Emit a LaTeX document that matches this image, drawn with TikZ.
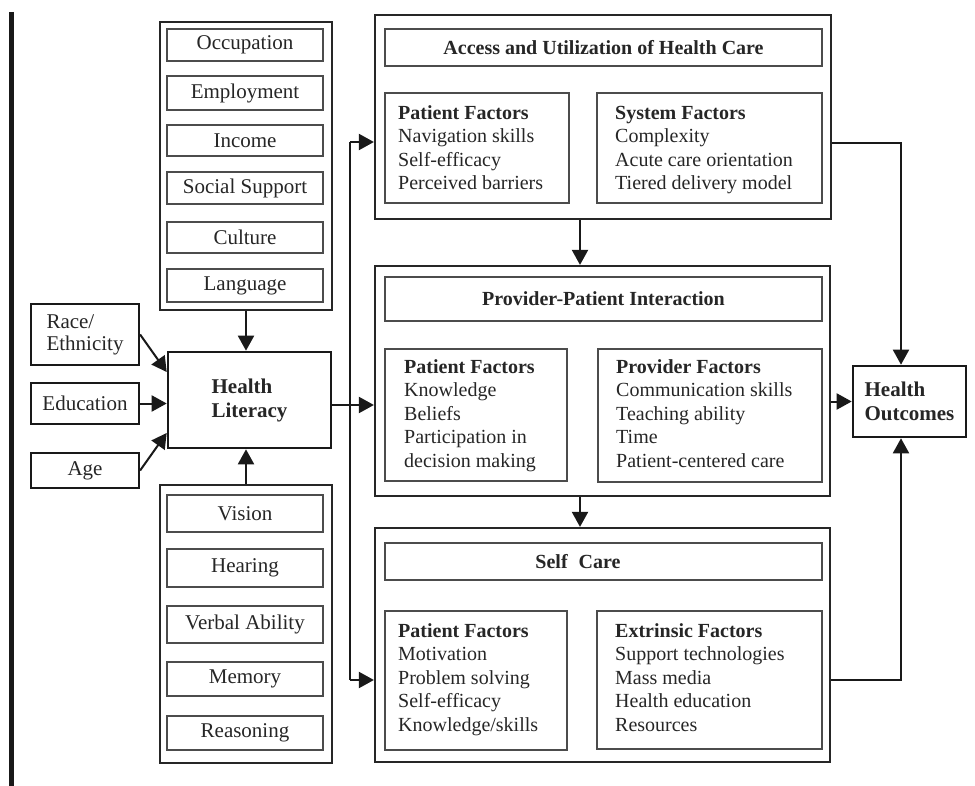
\documentclass[tikz,border=0pt]{standalone}
\usepackage{fontspec}
\setmainfont{Liberation Serif}
\usetikzlibrary{arrows.meta}
\newcommand{\fsz}{\fontsize{20}{23.5}\selectfont}
\newcommand{\fszb}{\fontsize{21}{24}\selectfont}
\begin{document}
\begin{tikzpicture}[x=1pt,y=-1pt,
  obox/.style={draw=black!85, line width=2.2pt, inner sep=0pt},
  ibox/.style={draw=black!70, line width=1.2pt, inner sep=0pt, font=\fsz, text=black!85},
  lbox/.style={draw=black!70, line width=1.2pt, inner sep=0pt, font=\fszb, text=black!85},
  kbox/.style={draw=black!90, line width=2.6pt, inner sep=0pt, font=\fszb\bfseries, align=left, text=black!85},
  dbox/.style={draw=black!90, line width=2.2pt, inner sep=0pt, font=\fszb, align=left, text=black!85},
  tbox/.style={draw=black!70, line width=1.2pt, inner sep=0pt, font=\fsz\bfseries, text=black!85},
  txt/.style={inner sep=0pt, align=left, font=\fsz, anchor=north west, text=black!85},
  conn/.style={draw=black!90, line width=2pt},
  arr/.style={conn, -{Triangle[length=15pt,width=16pt]}}]
\useasboundingbox (0,0) rectangle (975,786);
\fill[white] (0,0) rectangle (975,786);
% left bar
\draw[line width=5pt, black!90] (11,12) -- (11,786);

% top-left group
\node[obox, minimum width=172pt, minimum height=288pt] (topgrp) at (246,166) {};
\node[lbox, minimum width=156pt, minimum height=32pt] (occ) at (245,45) {Occupation};
\node[lbox, minimum width=156pt, minimum height=34pt] (emp) at (245,93) {Employment};
\node[lbox, minimum width=156pt, minimum height=31pt] (inc) at (245,140.5) {Income};
\node[lbox, minimum width=156pt, minimum height=32pt] (soc) at (245,188) {Social Support};
\node[lbox, minimum width=156pt, minimum height=31pt] (cul) at (245,237.5) {Culture};
\node[lbox, minimum width=156pt, minimum height=33pt] (lan) at (245,285.5) {Language};

% bottom-left group
\node[obox, minimum width=172pt, minimum height=278pt] (botgrp) at (246,624) {};
\node[lbox, minimum width=156pt, minimum height=37pt] (vis) at (245,513.5) {Vision};
\node[lbox, minimum width=156pt, minimum height=38pt] (hea) at (245,568) {Hearing};
\node[lbox, minimum width=156pt, minimum height=37pt] (ver) at (245,624.5) {Verbal Ability};
\node[lbox, minimum width=156pt, minimum height=34pt] (mem) at (245,679) {Memory};
\node[lbox, minimum width=156pt, minimum height=34pt] (rea) at (245,733) {Reasoning};

% demographic boxes
\node[dbox, minimum width=108pt, minimum height=61pt, font=\fontsize{21}{22}\selectfont] (race) at (85,334.5) {Race/\\Ethnicity};
\node[dbox, minimum width=108pt, minimum height=41pt] (edu) at (85,403.5) {Education};
\node[dbox, minimum width=108pt, minimum height=35pt] (age) at (85,470.5) {Age};

% health literacy
\node[kbox, minimum width=163pt, minimum height=96pt] (hl) at (249.5,400) {Health\\Literacy};

% access
\node[obox, minimum width=456pt, minimum height=204pt] (acc) at (603,117) {};
\node[tbox, minimum width=437pt, minimum height=37pt] (acct) at (603.5,47.5) {Access and Utilization of Health Care};
\node[ibox, minimum width=184pt, minimum height=110pt] (accp) at (477,148) {};
\node[ibox, minimum width=225pt, minimum height=110pt] (accs) at (709.5,148) {};
\node[txt] (taccp) at (398,102.5) {\strut\textbf{Patient Factors}\\Navigation skills\\Self-efficacy\\Perceived barriers};
\node[txt] (taccs) at (615,102.5) {\strut\textbf{System Factors}\\Complexity\\Acute care orientation\\Tiered delivery model};

% provider-patient
\node[obox, minimum width=455pt, minimum height=230pt] (prov) at (602.5,381) {};
\node[tbox, minimum width=437pt, minimum height=44pt] (provt) at (603.5,299) {Provider-Patient Interaction};
\node[ibox, minimum width=182pt, minimum height=132pt] (provp) at (476,415) {};
\node[ibox, minimum width=224pt, minimum height=133pt] (provf) at (710,415.5) {};
\node[txt] (tprovp) at (404,356.5) {\strut\textbf{Patient Factors}\\Knowledge\\Beliefs\\Participation in\\decision making};
\node[txt] (tprovf) at (616,356.5) {\strut\textbf{Provider Factors}\\Communication skills\\Teaching ability\\Time\\Patient-centered care};

% self care
\node[obox, minimum width=455pt, minimum height=234pt] (self) at (602.5,645) {};
\node[tbox, minimum width=437pt, minimum height=37pt] (selft) at (603.5,561.5) {};
\node[inner sep=0pt, font=\fsz\bfseries, text=black!85] (tselft) at (578,561.5) {Self\hspace{0.3em} Care};
\node[ibox, minimum width=182pt, minimum height=139pt] (selfp) at (476,680.5) {};
\node[ibox, minimum width=225pt, minimum height=138pt] (selfe) at (709.5,680) {};
\node[txt] (tselfp) at (398,620.5) {\strut\textbf{Patient Factors}\\Motivation\\Problem solving\\Self-efficacy\\Knowledge/skills};
\node[txt] (tselfe) at (615,620.5) {\strut\textbf{Extrinsic Factors}\\Support technologies\\Mass media\\Health education\\Resources};

% health outcomes
\node[kbox, minimum width=113pt, minimum height=71pt] (ho) at (909.5,401.5) {Health\\Outcomes};

% connectors
\draw[arr] (topgrp.south) -- (topgrp.south |- hl.north);
\draw[arr] (botgrp.north) -- (botgrp.north |- hl.south);
\draw[arr] (race.east) -- ([yshift=28pt]hl.west);
\draw[arr] (edu.east) -- (edu.east -| hl.west);
\draw[arr] (age.east) -- ([yshift=-33pt]hl.west);
\draw[arr] ([yshift=-5pt]hl.east) -- ([yshift=-5pt]hl.east -| prov.west);

\coordinate (bt) at (350,142);
\coordinate (bb) at (350,680);
\draw[conn] (bt) -- (bb);
\draw[arr] (bt) -- (bt -| acc.west);
\draw[arr] (bb) -- (bb -| self.west);

\coordinate (vx) at (580,0);
\draw[arr] (acc.south -| vx) -- (prov.north -| vx);
\draw[arr] (prov.south -| vx) -- (self.north -| vx);

\coordinate (r1) at (901,143);
\coordinate (r2) at (901,680);
\draw[arr] (acc.east |- r1) -- (r1) -- (ho.north -| r1);
\draw[arr] (ho.west -| prov.east) -- (ho.west);
\draw[arr] (self.east |- r2) -- (r2) -- (ho.south -| r2);
\end{tikzpicture}
\end{document}
